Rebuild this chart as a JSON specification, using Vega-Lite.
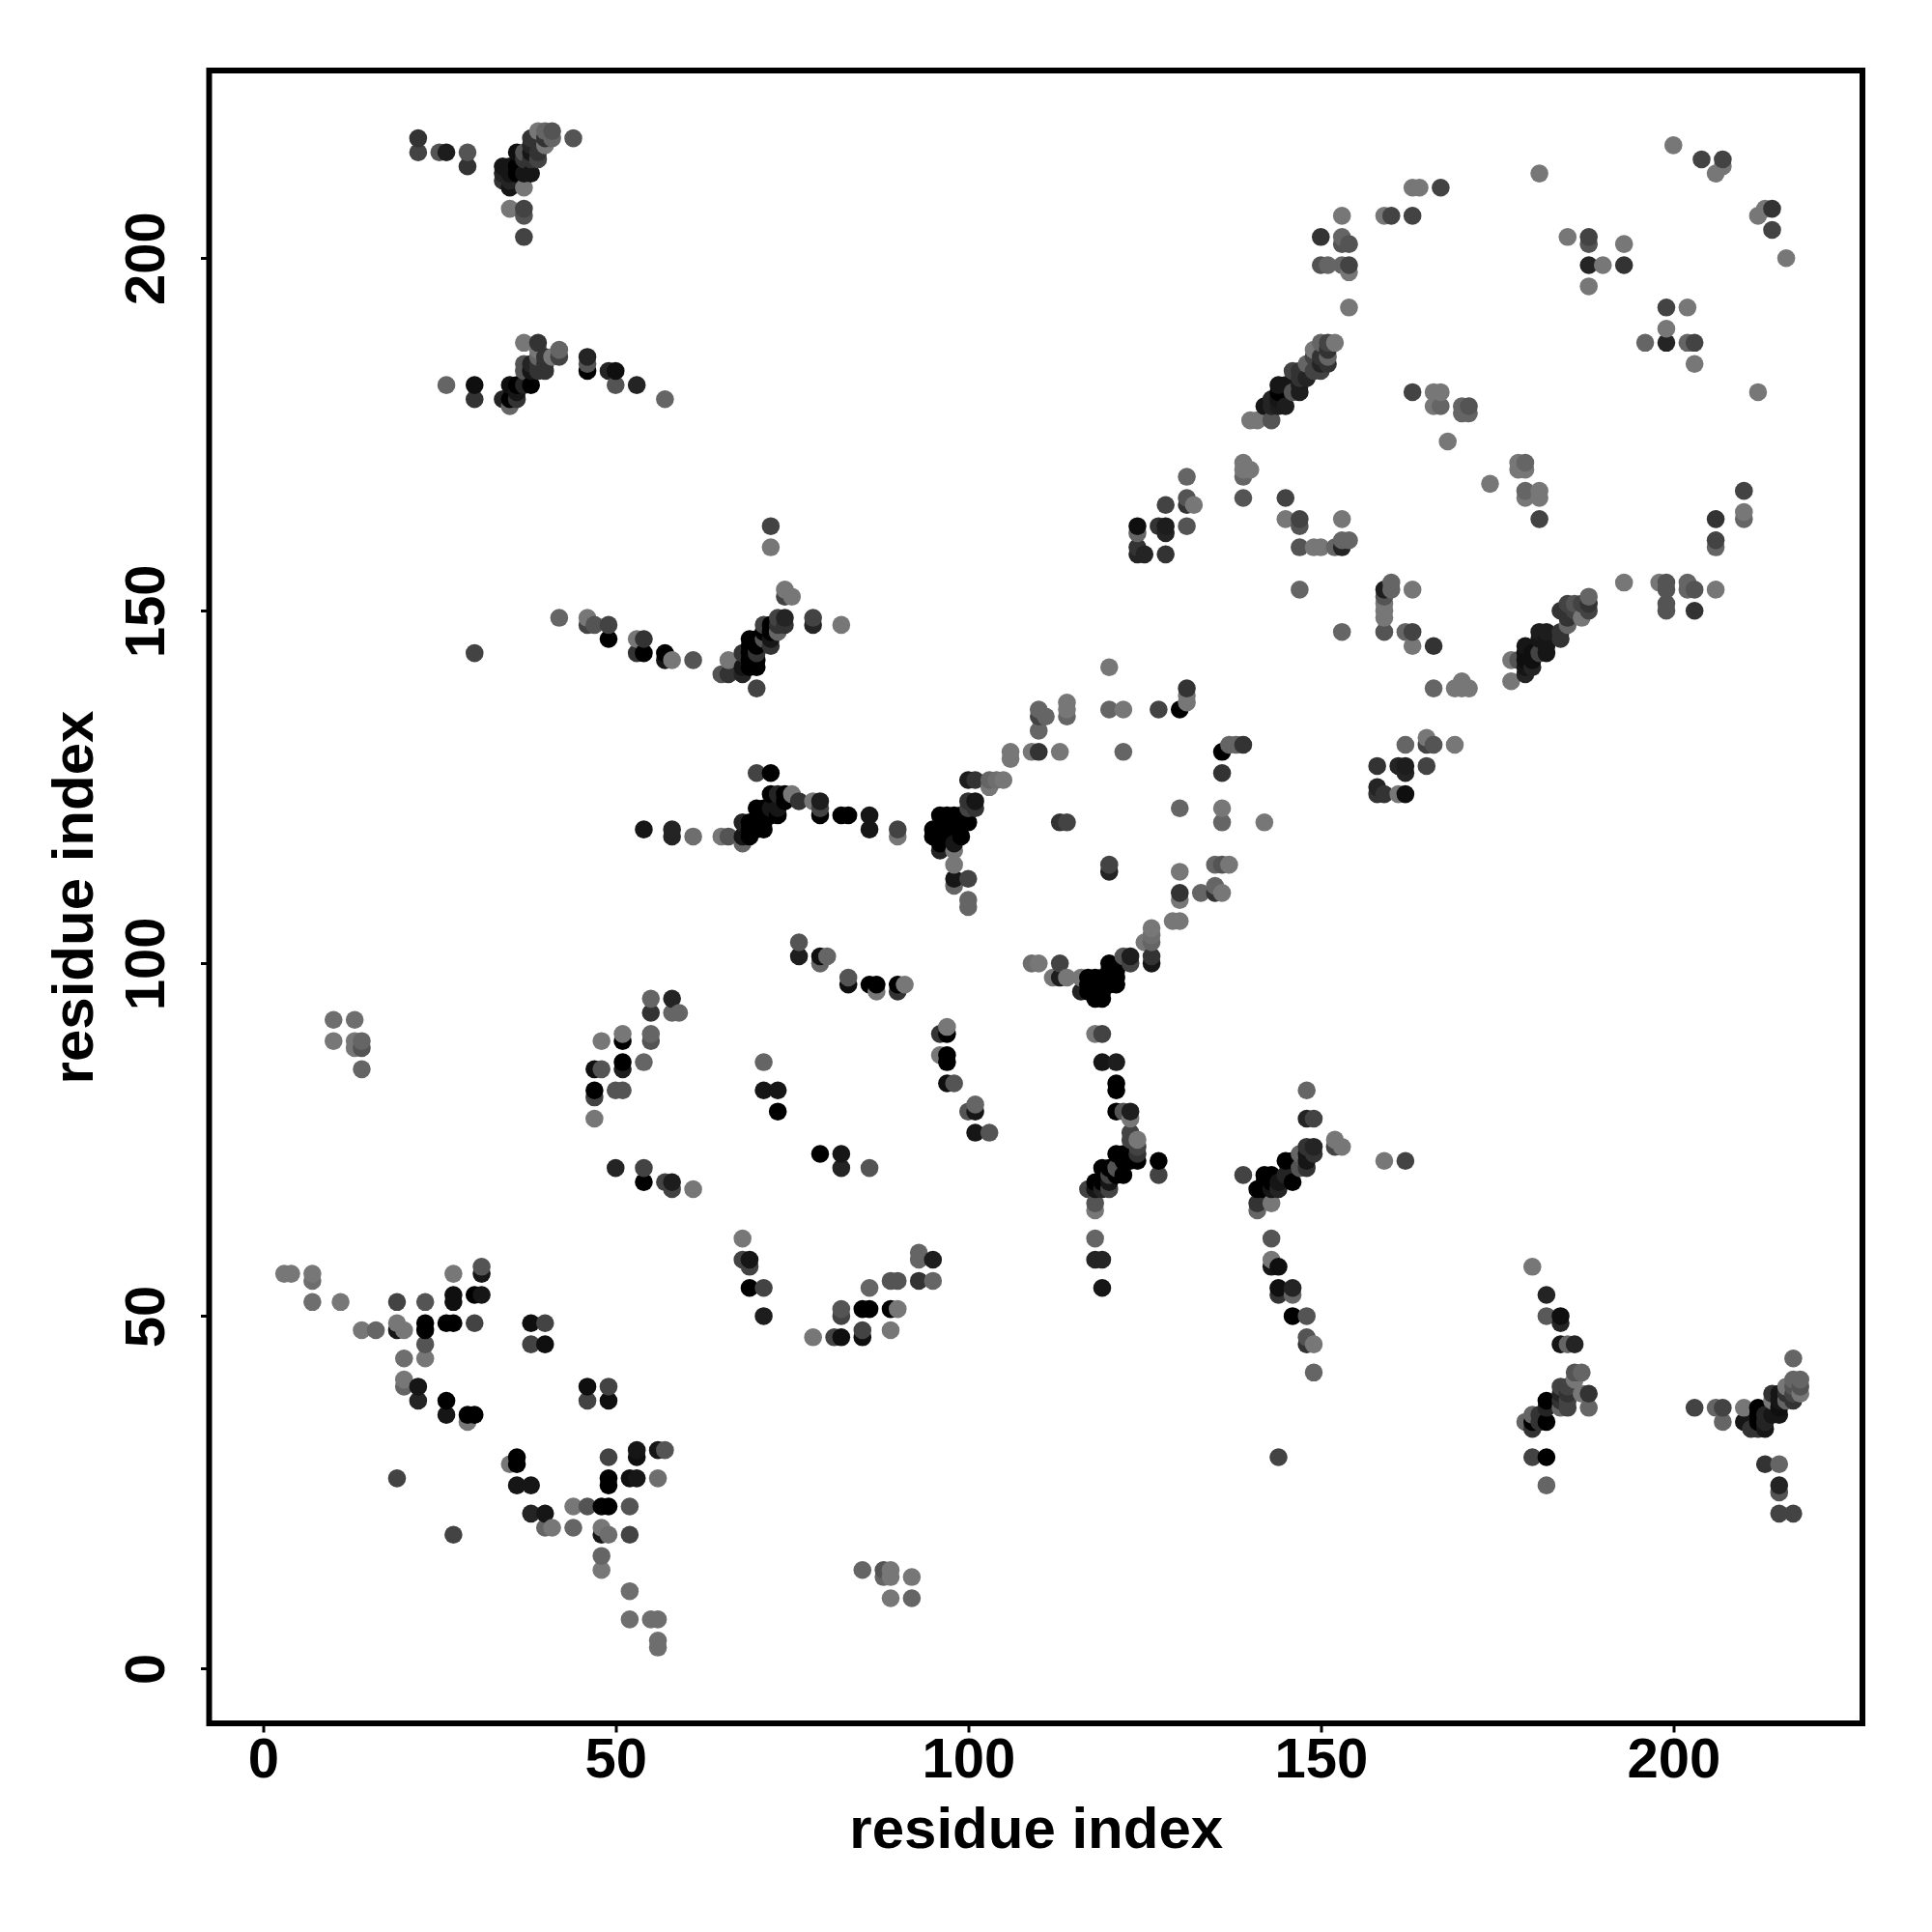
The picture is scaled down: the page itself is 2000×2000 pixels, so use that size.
{"$schema":"https://vega.github.io/schema/vega-lite/v6.json","autosize":"none","width":1711.5,"height":1711,"padding":{"left":216.5,"top":73,"right":72,"bottom":216},"background":"white","view":{"stroke":"black","strokeWidth":6},"config":{"font":"Liberation Sans"},"data":{"values":[
{"x":3,"y":56,"g":119},{"x":4,"y":56,"g":119},{"x":7,"y":52,"g":110},{"x":7,"y":55,"g":110},{"x":7,"y":56,"g":119},{"x":10,"y":89,"g":119},{"x":10,"y":92,"g":110},{"x":11,"y":52,"g":119},{"x":13,"y":88,"g":119},{"x":13,"y":89,"g":119},{"x":13,"y":92,"g":110},{"x":14,"y":48,"g":119},{"x":14,"y":85,"g":102},{"x":14,"y":88,"g":85},{"x":14,"y":89,"g":102},{"x":16,"y":48,"g":102},{"x":19,"y":27,"g":68},{"x":19,"y":48,"g":17},{"x":19,"y":49,"g":119},{"x":19,"y":52,"g":68},{"x":20,"y":40,"g":102},{"x":20,"y":41,"g":119},{"x":20,"y":44,"g":110},{"x":20,"y":48,"g":119},
{"x":22,"y":38,"g":34},{"x":22,"y":40,"g":17},{"x":22,"y":215,"g":68},{"x":22,"y":217,"g":51},{"x":23,"y":44,"g":119},{"x":23,"y":46,"g":85},{"x":23,"y":48,"g":0},{"x":23,"y":49,"g":0},{"x":23,"y":52,"g":85},{"x":25,"y":215,"g":85},{"x":26,"y":36,"g":17},{"x":26,"y":38,"g":0},{"x":26,"y":49,"g":0},{"x":26,"y":182,"g":102},{"x":26,"y":215,"g":26},{"x":27,"y":19,"g":68},{"x":27,"y":49,"g":0},{"x":27,"y":52,"g":10},{"x":27,"y":53,"g":10},{"x":27,"y":56,"g":119},{"x":29,"y":35,"g":119},{"x":29,"y":36,"g":0},{"x":29,"y":213,"g":51},{"x":29,"y":215,"g":85},{"x":30,"y":36,"g":0},{"x":30,"y":49,"g":68},{"x":30,"y":53,"g":0},{"x":30,"y":144,"g":68},{"x":30,"y":180,"g":51},{"x":30,"y":182,"g":10},{"x":31,"y":53,"g":17},{"x":31,"y":56,"g":17},{"x":31,"y":57,"g":85},
{"x":34,"y":180,"g":34},{"x":34,"y":211,"g":51},{"x":34,"y":212,"g":34},{"x":34,"y":213,"g":17},{"x":35,"y":29,"g":119},{"x":35,"y":179,"g":102},{"x":35,"y":180,"g":0},{"x":35,"y":182,"g":10},{"x":35,"y":207,"g":119},{"x":35,"y":210,"g":17},{"x":35,"y":211,"g":34},{"x":35,"y":212,"g":17},{"x":35,"y":213,"g":17},{"x":36,"y":26,"g":17},{"x":36,"y":29,"g":0},{"x":36,"y":30,"g":0},{"x":36,"y":180,"g":51},{"x":36,"y":181,"g":17},{"x":36,"y":182,"g":0},{"x":36,"y":212,"g":0},{"x":36,"y":213,"g":0},{"x":36,"y":215,"g":10},{"x":37,"y":182,"g":34},{"x":37,"y":184,"g":85},{"x":37,"y":185,"g":85},{"x":37,"y":188,"g":119},{"x":37,"y":203,"g":68},{"x":37,"y":206,"g":85},{"x":37,"y":207,"g":68},{"x":37,"y":210,"g":119},{"x":37,"y":212,"g":17},{"x":37,"y":214,"g":51},{"x":37,"y":215,"g":85},{"x":38,"y":22,"g":34},{"x":38,"y":26,"g":17},{"x":38,"y":46,"g":68},{"x":38,"y":49,"g":10},{"x":38,"y":182,"g":0},{"x":38,"y":184,"g":17},{"x":38,"y":185,"g":34},{"x":38,"y":212,"g":17},{"x":38,"y":214,"g":51},{"x":38,"y":215,"g":17},{"x":38,"y":216,"g":34},{"x":38,"y":217,"g":51},{"x":39,"y":184,"g":51},{"x":39,"y":185,"g":51},{"x":39,"y":186,"g":102},{"x":39,"y":187,"g":119},{"x":39,"y":188,"g":51},{"x":39,"y":214,"g":68},{"x":39,"y":215,"g":51},{"x":39,"y":218,"g":119},{"x":40,"y":20,"g":102},{"x":40,"y":22,"g":17},{"x":40,"y":46,"g":10},{"x":40,"y":49,"g":68},{"x":40,"y":184,"g":51},{"x":40,"y":185,"g":51},{"x":40,"y":186,"g":51},{"x":40,"y":216,"g":119},{"x":40,"y":217,"g":51},{"x":40,"y":218,"g":102},{"x":41,"y":20,"g":119},{"x":41,"y":186,"g":119},{"x":41,"y":217,"g":102},{"x":41,"y":218,"g":85},{"x":42,"y":149,"g":102},{"x":42,"y":186,"g":68},{"x":42,"y":187,"g":102},{"x":44,"y":20,"g":102},{"x":44,"y":23,"g":119},{"x":44,"y":217,"g":85},
{"x":46,"y":23,"g":85},{"x":46,"y":38,"g":68},{"x":46,"y":40,"g":10},{"x":46,"y":148,"g":68},{"x":46,"y":149,"g":119},{"x":46,"y":184,"g":0},{"x":46,"y":185,"g":85},{"x":46,"y":186,"g":34},{"x":47,"y":78,"g":119},{"x":47,"y":81,"g":68},{"x":47,"y":82,"g":0},{"x":47,"y":85,"g":10},{"x":47,"y":148,"g":85},{"x":48,"y":14,"g":119},{"x":48,"y":16,"g":102},{"x":48,"y":19,"g":17},{"x":48,"y":20,"g":119},{"x":48,"y":23,"g":0},{"x":48,"y":85,"g":85},{"x":48,"y":89,"g":119},{"x":49,"y":19,"g":110},{"x":49,"y":23,"g":0},{"x":49,"y":26,"g":0},{"x":49,"y":27,"g":0},{"x":49,"y":30,"g":68},{"x":49,"y":38,"g":10},{"x":49,"y":40,"g":68},{"x":49,"y":146,"g":0},{"x":49,"y":148,"g":68},{"x":49,"y":184,"g":34},{"x":50,"y":71,"g":34},{"x":50,"y":82,"g":85},{"x":50,"y":182,"g":85},{"x":50,"y":184,"g":10},{"x":51,"y":82,"g":85},{"x":51,"y":85,"g":26},{"x":51,"y":86,"g":0},{"x":51,"y":89,"g":0},{"x":51,"y":90,"g":119},{"x":52,"y":7,"g":110},{"x":52,"y":11,"g":110},{"x":52,"y":19,"g":68},{"x":52,"y":23,"g":85},{"x":52,"y":27,"g":10},{"x":53,"y":27,"g":17},{"x":53,"y":30,"g":10},{"x":53,"y":31,"g":17},{"x":53,"y":144,"g":51},{"x":53,"y":146,"g":119},{"x":53,"y":182,"g":34},{"x":54,"y":69,"g":0},{"x":54,"y":71,"g":68},{"x":54,"y":86,"g":102},{"x":54,"y":119,"g":17},{"x":54,"y":144,"g":0},{"x":54,"y":146,"g":51},{"x":55,"y":7,"g":110},{"x":55,"y":89,"g":85},{"x":55,"y":90,"g":102},{"x":55,"y":93,"g":51},{"x":55,"y":95,"g":102},{"x":56,"y":3,"g":110},{"x":56,"y":4,"g":110},{"x":56,"y":7,"g":110},{"x":56,"y":27,"g":110},{"x":56,"y":31,"g":17},{"x":57,"y":31,"g":85},{"x":57,"y":69,"g":68},{"x":57,"y":143,"g":17},{"x":57,"y":144,"g":0},{"x":57,"y":180,"g":102},{"x":58,"y":68,"g":68},{"x":58,"y":69,"g":26},{"x":58,"y":93,"g":102},{"x":58,"y":95,"g":34},{"x":58,"y":118,"g":34},{"x":58,"y":119,"g":34},{"x":58,"y":143,"g":119},{"x":59,"y":93,"g":102},
{"x":61,"y":68,"g":119},{"x":61,"y":118,"g":110},{"x":61,"y":143,"g":85},{"x":65,"y":118,"g":119},{"x":65,"y":141,"g":85},{"x":66,"y":118,"g":85},{"x":66,"y":141,"g":51},{"x":66,"y":143,"g":119},{"x":68,"y":58,"g":68},{"x":68,"y":61,"g":119},{"x":68,"y":117,"g":102},{"x":68,"y":118,"g":17},{"x":68,"y":120,"g":34},{"x":68,"y":141,"g":34},{"x":68,"y":142,"g":17},{"x":68,"y":144,"g":51},{"x":69,"y":54,"g":0},{"x":69,"y":57,"g":68},{"x":69,"y":58,"g":17},{"x":69,"y":118,"g":0},{"x":69,"y":119,"g":0},{"x":69,"y":120,"g":0},{"x":69,"y":142,"g":0},{"x":69,"y":143,"g":0},{"x":69,"y":144,"g":0},{"x":69,"y":145,"g":0},{"x":69,"y":146,"g":0},{"x":70,"y":119,"g":0},{"x":70,"y":120,"g":0},{"x":70,"y":122,"g":0},{"x":70,"y":127,"g":68},{"x":70,"y":139,"g":68},{"x":70,"y":142,"g":0},{"x":70,"y":143,"g":0},{"x":70,"y":144,"g":51},{"x":70,"y":145,"g":0},{"x":70,"y":146,"g":0},{"x":71,"y":50,"g":26},{"x":71,"y":54,"g":68},{"x":71,"y":82,"g":17},{"x":71,"y":86,"g":102},{"x":71,"y":119,"g":0},{"x":71,"y":120,"g":0},{"x":71,"y":122,"g":0},{"x":71,"y":146,"g":85},{"x":71,"y":147,"g":0},{"x":71,"y":148,"g":68},{"x":72,"y":121,"g":0},{"x":72,"y":122,"g":17},{"x":72,"y":124,"g":0},{"x":72,"y":127,"g":0},{"x":72,"y":145,"g":51},{"x":72,"y":146,"g":17},{"x":72,"y":147,"g":0},{"x":72,"y":148,"g":0},{"x":72,"y":159,"g":119},{"x":72,"y":162,"g":68},{"x":73,"y":79,"g":0},{"x":73,"y":82,"g":17},{"x":73,"y":121,"g":0},{"x":73,"y":122,"g":17},{"x":73,"y":124,"g":34},{"x":73,"y":147,"g":102},{"x":73,"y":148,"g":51},{"x":73,"y":149,"g":68},{"x":74,"y":123,"g":0},{"x":74,"y":124,"g":0},{"x":74,"y":148,"g":51},{"x":74,"y":149,"g":34},{"x":74,"y":152,"g":68},{"x":74,"y":153,"g":119},{"x":75,"y":124,"g":119},{"x":75,"y":152,"g":119},{"x":76,"y":101,"g":26},{"x":76,"y":103,"g":85},{"x":76,"y":123,"g":51},{"x":78,"y":47,"g":119},{"x":78,"y":123,"g":119},{"x":78,"y":148,"g":34},{"x":78,"y":149,"g":68},{"x":79,"y":73,"g":0},{"x":79,"y":100,"g":102},{"x":79,"y":101,"g":10},{"x":79,"y":121,"g":0},{"x":79,"y":122,"g":68},{"x":79,"y":123,"g":26},{"x":80,"y":101,"g":102},{"x":81,"y":47,"g":68},{"x":82,"y":47,"g":10},{"x":82,"y":50,"g":68},{"x":82,"y":51,"g":85},{"x":82,"y":71,"g":34},{"x":82,"y":73,"g":17},{"x":82,"y":121,"g":0},{"x":82,"y":148,"g":119},{"x":83,"y":97,"g":10},{"x":83,"y":98,"g":85},{"x":83,"y":121,"g":0},{"x":85,"y":14,"g":102},{"x":85,"y":47,"g":10},{"x":85,"y":48,"g":68},{"x":85,"y":51,"g":0},{"x":86,"y":51,"g":0},{"x":86,"y":54,"g":102},{"x":86,"y":71,"g":85},{"x":86,"y":97,"g":0},{"x":86,"y":119,"g":17},{"x":86,"y":121,"g":17},{"x":87,"y":96,"g":119},{"x":87,"y":97,"g":0},{"x":88,"y":13,"g":102},{"x":88,"y":14,"g":85},{"x":89,"y":10,"g":119},{"x":89,"y":13,"g":119},{"x":89,"y":14,"g":119},{"x":89,"y":48,"g":119},{"x":89,"y":51,"g":0},{"x":89,"y":55,"g":85},{"x":90,"y":51,"g":119},{"x":90,"y":55,"g":85},{"x":90,"y":96,"g":51},{"x":90,"y":97,"g":0},{"x":90,"y":118,"g":119},{"x":90,"y":119,"g":68},{"x":91,"y":97,"g":119},{"x":92,"y":10,"g":102},{"x":92,"y":13,"g":119},{"x":93,"y":55,"g":51},{"x":93,"y":58,"g":102},{"x":93,"y":59,"g":102},{"x":95,"y":55,"g":102},{"x":95,"y":58,"g":26},{"x":95,"y":118,"g":0},{"x":95,"y":119,"g":0},
{"x":96,"y":87,"g":119},{"x":96,"y":90,"g":51},{"x":96,"y":116,"g":34},{"x":96,"y":117,"g":0},{"x":96,"y":121,"g":0},{"x":97,"y":83,"g":10},{"x":97,"y":86,"g":0},{"x":97,"y":87,"g":0},{"x":97,"y":90,"g":0},{"x":97,"y":91,"g":119},{"x":97,"y":118,"g":0},{"x":97,"y":119,"g":0},{"x":97,"y":121,"g":0},{"x":98,"y":83,"g":85},{"x":98,"y":111,"g":102},{"x":98,"y":112,"g":17},{"x":98,"y":114,"g":119},{"x":98,"y":116,"g":119},{"x":98,"y":117,"g":17},{"x":98,"y":120,"g":0},{"x":98,"y":121,"g":0},{"x":99,"y":118,"g":0},{"x":99,"y":120,"g":0},{"x":99,"y":121,"g":0},{"x":100,"y":79,"g":85},{"x":100,"y":108,"g":102},{"x":100,"y":109,"g":102},{"x":100,"y":112,"g":68},{"x":100,"y":120,"g":0},{"x":100,"y":122,"g":68},{"x":100,"y":123,"g":51},{"x":100,"y":126,"g":26},{"x":101,"y":76,"g":17},{"x":101,"y":79,"g":17},{"x":101,"y":80,"g":102},{"x":101,"y":122,"g":51},{"x":101,"y":123,"g":17},{"x":101,"y":126,"g":51},{"x":103,"y":76,"g":85},{"x":103,"y":125,"g":119},{"x":103,"y":126,"g":102},{"x":104,"y":126,"g":110},{"x":105,"y":126,"g":119},{"x":106,"y":129,"g":119},{"x":106,"y":130,"g":119},{"x":109,"y":100,"g":110},{"x":109,"y":130,"g":119},{"x":110,"y":100,"g":119},{"x":110,"y":130,"g":51},{"x":110,"y":133,"g":102},{"x":110,"y":135,"g":68},{"x":110,"y":136,"g":102},{"x":111,"y":135,"g":102},{"x":112,"y":98,"g":119},{"x":113,"y":98,"g":26},{"x":113,"y":100,"g":68},{"x":113,"y":120,"g":51},{"x":113,"y":130,"g":119},{"x":114,"y":98,"g":119},{"x":114,"y":120,"g":68},{"x":114,"y":135,"g":102},{"x":114,"y":136,"g":119},{"x":114,"y":137,"g":119},{"x":116,"y":96,"g":34},{"x":116,"y":98,"g":119},{"x":117,"y":68,"g":68},{"x":117,"y":96,"g":0},{"x":117,"y":97,"g":0},{"x":117,"y":98,"g":0},{"x":118,"y":58,"g":34},{"x":118,"y":61,"g":102},{"x":118,"y":65,"g":119},{"x":118,"y":66,"g":85},{"x":118,"y":68,"g":17},{"x":118,"y":69,"g":0},{"x":118,"y":90,"g":119},{"x":118,"y":95,"g":0},{"x":118,"y":96,"g":0},{"x":118,"y":98,"g":0},{"x":119,"y":54,"g":17},{"x":119,"y":58,"g":34},{"x":119,"y":68,"g":34},{"x":119,"y":69,"g":0},{"x":119,"y":71,"g":0},{"x":119,"y":86,"g":17},{"x":119,"y":90,"g":68},{"x":119,"y":95,"g":0},{"x":119,"y":96,"g":0},{"x":119,"y":98,"g":0},{"x":120,"y":68,"g":68},{"x":120,"y":69,"g":17},{"x":120,"y":70,"g":68},{"x":120,"y":71,"g":0},{"x":120,"y":97,"g":0},{"x":120,"y":98,"g":0},{"x":120,"y":99,"g":0},{"x":120,"y":100,"g":0},{"x":120,"y":113,"g":34},{"x":120,"y":114,"g":68},{"x":120,"y":136,"g":102},{"x":120,"y":142,"g":119},{"x":121,"y":70,"g":0},{"x":121,"y":71,"g":85},{"x":121,"y":73,"g":0},{"x":121,"y":79,"g":0},{"x":121,"y":82,"g":0},{"x":121,"y":83,"g":0},{"x":121,"y":86,"g":26},{"x":121,"y":97,"g":0},{"x":121,"y":98,"g":0},{"x":121,"y":99,"g":0},{"x":122,"y":70,"g":0},{"x":122,"y":72,"g":0},{"x":122,"y":73,"g":0},{"x":122,"y":79,"g":85},{"x":122,"y":101,"g":85},{"x":122,"y":130,"g":102},{"x":122,"y":136,"g":119},{"x":123,"y":72,"g":0},{"x":123,"y":75,"g":68},{"x":123,"y":76,"g":68},{"x":123,"y":78,"g":119},{"x":123,"y":79,"g":26},{"x":123,"y":100,"g":68},{"x":123,"y":101,"g":26},{"x":124,"y":72,"g":0},{"x":124,"y":73,"g":51},{"x":124,"y":74,"g":68},{"x":124,"y":75,"g":119},{"x":124,"y":158,"g":34},{"x":124,"y":159,"g":51},{"x":124,"y":161,"g":102},{"x":124,"y":162,"g":10},{"x":125,"y":103,"g":119},{"x":125,"y":158,"g":34},{"x":126,"y":100,"g":17},{"x":126,"y":101,"g":51},{"x":126,"y":103,"g":102},{"x":126,"y":104,"g":110},{"x":126,"y":105,"g":119},{"x":127,"y":70,"g":68},{"x":127,"y":72,"g":0},{"x":127,"y":136,"g":68},{"x":127,"y":162,"g":51},{"x":128,"y":158,"g":51},{"x":128,"y":161,"g":34},{"x":128,"y":162,"g":26},{"x":128,"y":165,"g":68},{"x":129,"y":106,"g":119},{"x":130,"y":106,"g":119},{"x":130,"y":109,"g":119},{"x":130,"y":110,"g":51},{"x":130,"y":113,"g":119},{"x":130,"y":122,"g":102},{"x":130,"y":136,"g":0},{"x":131,"y":137,"g":119},{"x":131,"y":138,"g":119},{"x":131,"y":139,"g":51},{"x":131,"y":162,"g":85},{"x":131,"y":165,"g":51},{"x":131,"y":166,"g":85},{"x":131,"y":169,"g":102},{"x":132,"y":165,"g":119},{"x":133,"y":110,"g":102},{"x":135,"y":110,"g":51},{"x":135,"y":111,"g":102},{"x":135,"y":114,"g":102},{"x":136,"y":110,"g":119},{"x":136,"y":114,"g":85},{"x":136,"y":120,"g":102},{"x":136,"y":122,"g":119},{"x":136,"y":127,"g":51},{"x":136,"y":130,"g":0},{"x":137,"y":114,"g":119},{"x":137,"y":131,"g":102},{"x":138,"y":131,"g":102},{"x":139,"y":70,"g":68},{"x":139,"y":131,"g":51},{"x":139,"y":166,"g":85},{"x":139,"y":169,"g":102},{"x":139,"y":170,"g":119},{"x":139,"y":171,"g":119},{"x":140,"y":170,"g":119},{"x":140,"y":177,"g":119},
{"x":141,"y":65,"g":102},{"x":141,"y":66,"g":51},{"x":141,"y":68,"g":0},{"x":141,"y":177,"g":119},{"x":142,"y":68,"g":0},{"x":142,"y":69,"g":0},{"x":142,"y":70,"g":0},{"x":142,"y":120,"g":119},{"x":142,"y":179,"g":17},{"x":143,"y":57,"g":17},{"x":143,"y":58,"g":119},{"x":143,"y":61,"g":85},{"x":143,"y":66,"g":119},{"x":143,"y":68,"g":17},{"x":143,"y":69,"g":0},{"x":143,"y":70,"g":0},{"x":143,"y":177,"g":85},{"x":143,"y":179,"g":34},{"x":143,"y":180,"g":34},{"x":144,"y":30,"g":68},{"x":144,"y":53,"g":51},{"x":144,"y":54,"g":10},{"x":144,"y":57,"g":10},{"x":144,"y":68,"g":34},{"x":144,"y":69,"g":17},{"x":144,"y":179,"g":26},{"x":144,"y":180,"g":17},{"x":144,"y":181,"g":0},{"x":144,"y":182,"g":17},{"x":145,"y":70,"g":34},{"x":145,"y":72,"g":0},{"x":145,"y":163,"g":119},{"x":145,"y":166,"g":68},{"x":145,"y":179,"g":26},{"x":145,"y":182,"g":17},{"x":146,"y":50,"g":0},{"x":146,"y":53,"g":102},{"x":146,"y":54,"g":34},{"x":146,"y":69,"g":0},{"x":146,"y":72,"g":0},{"x":146,"y":181,"g":85},{"x":146,"y":184,"g":68},{"x":147,"y":71,"g":85},{"x":147,"y":73,"g":102},{"x":147,"y":153,"g":102},{"x":147,"y":159,"g":85},{"x":147,"y":162,"g":85},{"x":147,"y":163,"g":68},{"x":147,"y":181,"g":26},{"x":147,"y":182,"g":26},{"x":147,"y":183,"g":51},{"x":147,"y":184,"g":51},{"x":148,"y":46,"g":51},{"x":148,"y":47,"g":85},{"x":148,"y":50,"g":85},{"x":148,"y":71,"g":51},{"x":148,"y":72,"g":17},{"x":148,"y":73,"g":17},{"x":148,"y":74,"g":51},{"x":148,"y":78,"g":34},{"x":148,"y":82,"g":102},{"x":148,"y":183,"g":34},{"x":148,"y":185,"g":102},{"x":149,"y":42,"g":102},{"x":149,"y":46,"g":119},{"x":149,"y":73,"g":51},{"x":149,"y":74,"g":34},{"x":149,"y":78,"g":68},{"x":149,"y":159,"g":119},{"x":149,"y":184,"g":68},{"x":149,"y":186,"g":68},{"x":149,"y":187,"g":119},{"x":150,"y":159,"g":119},{"x":150,"y":184,"g":68},{"x":150,"y":185,"g":34},{"x":150,"y":186,"g":51},{"x":150,"y":188,"g":102},{"x":150,"y":199,"g":85},{"x":150,"y":203,"g":51},{"x":151,"y":185,"g":51},{"x":151,"y":186,"g":102},{"x":151,"y":187,"g":51},{"x":151,"y":188,"g":68},{"x":151,"y":199,"g":102},{"x":152,"y":74,"g":68},{"x":152,"y":75,"g":119},{"x":152,"y":159,"g":102},{"x":152,"y":188,"g":119},{"x":153,"y":74,"g":119},{"x":153,"y":147,"g":102},{"x":153,"y":159,"g":34},{"x":153,"y":160,"g":102},{"x":153,"y":163,"g":119},{"x":153,"y":199,"g":102},{"x":153,"y":202,"g":85},{"x":153,"y":203,"g":102},{"x":153,"y":206,"g":119},{"x":154,"y":160,"g":102},{"x":154,"y":193,"g":119},{"x":154,"y":198,"g":119},{"x":154,"y":199,"g":68},{"x":154,"y":202,"g":85},
{"x":158,"y":124,"g":51},{"x":158,"y":125,"g":34},{"x":158,"y":128,"g":51},{"x":159,"y":72,"g":119},{"x":159,"y":124,"g":51},{"x":159,"y":147,"g":85},{"x":159,"y":149,"g":119},{"x":159,"y":150,"g":119},{"x":159,"y":151,"g":119},{"x":159,"y":152,"g":85},{"x":159,"y":153,"g":26},{"x":159,"y":206,"g":119},{"x":160,"y":153,"g":102},{"x":160,"y":154,"g":102},{"x":160,"y":206,"g":68},{"x":161,"y":124,"g":119},{"x":161,"y":128,"g":34},{"x":162,"y":72,"g":68},{"x":162,"y":124,"g":10},{"x":162,"y":127,"g":34},{"x":162,"y":128,"g":26},{"x":162,"y":131,"g":102},{"x":162,"y":147,"g":102},{"x":163,"y":145,"g":119},{"x":163,"y":147,"g":68},{"x":163,"y":153,"g":119},{"x":163,"y":181,"g":68},{"x":163,"y":206,"g":68},{"x":163,"y":210,"g":119},{"x":164,"y":210,"g":119},{"x":165,"y":128,"g":68},{"x":165,"y":131,"g":68},{"x":165,"y":132,"g":119},{"x":166,"y":131,"g":85},{"x":166,"y":139,"g":102},{"x":166,"y":145,"g":51},{"x":166,"y":179,"g":119},{"x":166,"y":181,"g":119},{"x":167,"y":179,"g":102},{"x":167,"y":181,"g":119},{"x":167,"y":210,"g":68},{"x":168,"y":174,"g":119},{"x":169,"y":131,"g":119},{"x":169,"y":139,"g":119},{"x":170,"y":139,"g":119},{"x":170,"y":140,"g":119},{"x":170,"y":178,"g":102},{"x":170,"y":179,"g":102},{"x":171,"y":139,"g":119},{"x":171,"y":178,"g":102},{"x":171,"y":179,"g":85},{"x":174,"y":168,"g":119},{"x":177,"y":140,"g":119},{"x":177,"y":143,"g":119},{"x":178,"y":143,"g":85},{"x":178,"y":170,"g":119},{"x":178,"y":171,"g":119},{"x":179,"y":35,"g":102},{"x":179,"y":141,"g":34},{"x":179,"y":142,"g":17},{"x":179,"y":143,"g":10},{"x":179,"y":144,"g":10},{"x":179,"y":145,"g":17},{"x":179,"y":166,"g":119},{"x":179,"y":167,"g":102},{"x":179,"y":170,"g":119},{"x":179,"y":171,"g":102},{"x":180,"y":30,"g":68},{"x":180,"y":34,"g":51},{"x":180,"y":35,"g":0},{"x":180,"y":36,"g":102},{"x":180,"y":57,"g":119},{"x":180,"y":142,"g":34},{"x":180,"y":143,"g":10},{"x":180,"y":144,"g":10},{"x":181,"y":35,"g":51},{"x":181,"y":36,"g":51},{"x":181,"y":144,"g":68},{"x":181,"y":146,"g":17},{"x":181,"y":147,"g":26},{"x":181,"y":163,"g":68},{"x":181,"y":166,"g":119},{"x":181,"y":167,"g":119},{"x":181,"y":212,"g":119},{"x":182,"y":26,"g":102},{"x":182,"y":30,"g":0},{"x":182,"y":35,"g":0},{"x":182,"y":37,"g":34},{"x":182,"y":38,"g":0},{"x":182,"y":50,"g":90},{"x":182,"y":53,"g":34},{"x":182,"y":144,"g":17},{"x":182,"y":145,"g":17},{"x":182,"y":146,"g":17},{"x":182,"y":147,"g":26},{"x":184,"y":37,"g":102},{"x":184,"y":38,"g":51},{"x":184,"y":39,"g":34},{"x":184,"y":40,"g":68},{"x":184,"y":46,"g":17},{"x":184,"y":49,"g":34},{"x":184,"y":50,"g":10},{"x":184,"y":146,"g":51},{"x":184,"y":147,"g":51},{"x":184,"y":150,"g":51},{"x":185,"y":37,"g":68},{"x":185,"y":38,"g":68},{"x":185,"y":39,"g":51},{"x":185,"y":40,"g":68},{"x":185,"y":46,"g":102},{"x":185,"y":148,"g":102},{"x":185,"y":149,"g":51},{"x":185,"y":150,"g":51},{"x":185,"y":151,"g":68},{"x":185,"y":203,"g":119},{"x":186,"y":41,"g":119},{"x":186,"y":42,"g":85},{"x":186,"y":46,"g":34},{"x":186,"y":150,"g":68},{"x":186,"y":151,"g":85},{"x":187,"y":39,"g":119},{"x":187,"y":42,"g":102},{"x":187,"y":149,"g":119},{"x":187,"y":151,"g":68},{"x":188,"y":37,"g":102},{"x":188,"y":39,"g":51},{"x":188,"y":150,"g":68},{"x":188,"y":151,"g":51},{"x":188,"y":152,"g":102},{"x":188,"y":196,"g":119},{"x":188,"y":199,"g":34},{"x":188,"y":202,"g":85},{"x":188,"y":203,"g":68},{"x":190,"y":199,"g":119},{"x":193,"y":154,"g":119},{"x":193,"y":199,"g":51},{"x":193,"y":202,"g":119},{"x":196,"y":188,"g":102},{"x":198,"y":154,"g":119},{"x":199,"y":150,"g":85},{"x":199,"y":151,"g":85},{"x":199,"y":153,"g":85},{"x":199,"y":154,"g":85},{"x":199,"y":188,"g":34},{"x":199,"y":190,"g":119},{"x":199,"y":193,"g":68},{"x":200,"y":216,"g":119},{"x":202,"y":153,"g":102},{"x":202,"y":154,"g":102},{"x":202,"y":188,"g":102},{"x":202,"y":193,"g":119},{"x":203,"y":37,"g":68},{"x":203,"y":150,"g":51},{"x":203,"y":153,"g":85},{"x":203,"y":185,"g":119},{"x":203,"y":188,"g":68},{"x":204,"y":214,"g":68},{"x":206,"y":37,"g":102},{"x":206,"y":153,"g":119},{"x":206,"y":159,"g":102},{"x":206,"y":160,"g":68},{"x":206,"y":163,"g":51},{"x":206,"y":212,"g":119},{"x":207,"y":35,"g":102},{"x":207,"y":37,"g":68},{"x":207,"y":213,"g":119},{"x":207,"y":214,"g":68},{"x":210,"y":35,"g":17},{"x":210,"y":37,"g":119},{"x":210,"y":163,"g":102},{"x":210,"y":164,"g":119},{"x":210,"y":167,"g":68},{"x":211,"y":34,"g":51},{"x":212,"y":34,"g":51},{"x":212,"y":35,"g":0},{"x":212,"y":36,"g":0},{"x":212,"y":37,"g":0},{"x":212,"y":181,"g":119},{"x":212,"y":206,"g":119},{"x":213,"y":29,"g":51},{"x":213,"y":34,"g":17},{"x":213,"y":35,"g":34},{"x":213,"y":36,"g":34},{"x":213,"y":207,"g":119},{"x":214,"y":36,"g":17},{"x":214,"y":38,"g":119},{"x":214,"y":39,"g":51},{"x":214,"y":204,"g":68},{"x":214,"y":207,"g":51},{"x":215,"y":22,"g":68},{"x":215,"y":25,"g":85},{"x":215,"y":26,"g":34},{"x":215,"y":29,"g":102},{"x":215,"y":36,"g":17},{"x":215,"y":37,"g":10},{"x":215,"y":38,"g":17},{"x":215,"y":39,"g":17},{"x":216,"y":38,"g":102},{"x":216,"y":39,"g":51},{"x":216,"y":40,"g":119},{"x":216,"y":200,"g":119},{"x":217,"y":22,"g":68},{"x":217,"y":38,"g":51},{"x":217,"y":39,"g":68},{"x":217,"y":40,"g":85},{"x":217,"y":41,"g":102},{"x":217,"y":44,"g":102},{"x":218,"y":39,"g":119},{"x":218,"y":40,"g":85},{"x":218,"y":41,"g":102}
]},"mark":{"type":"point","shape":"circle","filled":true,"size":345,"opacity":1,"clip":false},"encoding":{"x":{"field":"x","type":"quantitative","scale":{"domain":[-7.64,226.81],"nice":false,"zero":false},"axis":{"title":"residue index","values":[0,50,100,150,200],"grid":false,"domain":false,"tickColor":"black","tickWidth":3,"tickSize":9,"labelFont":"Liberation Sans","labelFontWeight":"bold","labelFontSize":58,"labelColor":"black","labelPadding":0,"labelFlush":false,"labelOverlap":false,"titleFont":"Liberation Sans","titleFontWeight":"bold","titleFontSize":60,"titleColor":"black","titlePadding":14}},"y":{"field":"y","type":"quantitative","scale":{"domain":[-7.74,226.6],"nice":false,"zero":false},"axis":{"title":"residue index","values":[0,50,100,150,200],"grid":false,"domain":false,"tickColor":"black","tickWidth":3,"tickSize":9,"labelFont":"Liberation Sans","labelFontWeight":"bold","labelFontSize":58,"labelColor":"black","labelAngle":270,"labelAlign":"center","labelBaseline":"bottom","labelPadding":26,"labelFlush":false,"labelOverlap":false,"titleFont":"Liberation Sans","titleFontWeight":"bold","titleFontSize":60,"titleColor":"black","titlePadding":15}},"color":{"field":"g","type":"quantitative","legend":null,"scale":{"domain":[0,119],"range":["#000000","#777777"]}}}}
